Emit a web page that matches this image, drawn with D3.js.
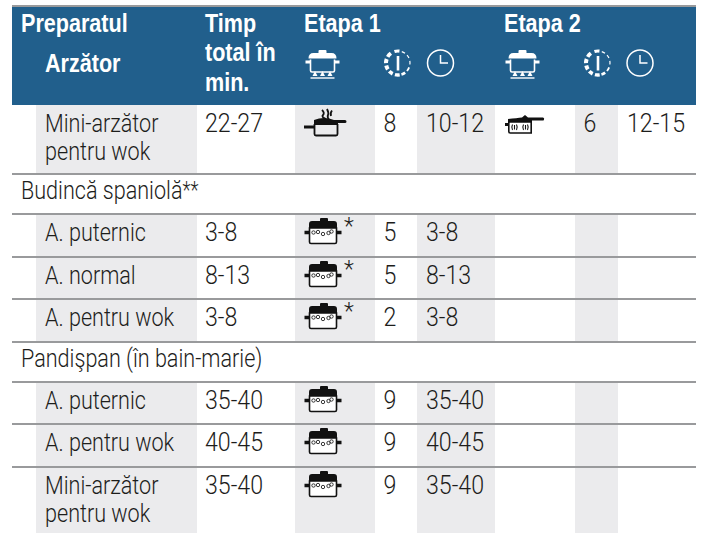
<!DOCTYPE html>
<html>
<head>
<meta charset="utf-8">
<script src="https://cdn.jsdelivr.net/npm/d3@7"></script>
<style>
  html, body { margin: 0; padding: 0; background: #fff; }
  svg { display: block; }
  .body-text { font-family: Roboto, sans-serif; font-weight: 300; font-size: 26.5px; fill: #1d1d1b; }
  .head-text { font-family: "Liberation Sans", sans-serif; font-weight: 700; font-size: 26px; fill: #fff; }
</style>
</head>
<body>
<svg id="table" width="702" height="533"></svg>
<script>
// table content, one entry per row
const labels = ['Mini-arzător|pentru wok', 'Budincă spaniolă**', 'A. puternic', 'A. normal', 'A. pentru wok',
  'Pandişpan (în bain-marie)', 'A. puternic', 'A. pentru wok', 'Mini-arzător|pentru wok'];
const totals = ['22-27', null, '3-8', '8-13', '3-8', null, '35-40', '40-45', '35-40'];
const icons1 = ['steam', null, 'boil*', 'boil*', 'boil*', null, 'boil', 'boil', 'boil'];
const powers1 = ['8', null, '5', '5', '2', null, '9', '9', '9'];
const times1 = ['10-12', null, '3-8', '8-13', '3-8', null, '35-40', '40-45', '35-40'];
const icons2 = ['fry', null, null, null, null, null, null, null, null];
const powers2 = ['6', null, null, null, null, null, null, null, null];
const times2 = ['12-15', null, null, null, null, null, null, null, null];
const columns = ['name', 'total', 'icon1', 'power1', 'time1', 'icon2', 'power2', 'time2'];
const headLeft = ['Preparatul', 'Etapa 1', 'Etapa 2'];
const headTotal = ['Timp', 'total în', 'min.'];
const headBurner = 'Arzător';

const svg = d3.select('#table');
const blue = '#215f8c';
const grey = '#ebebed';
const rule = '#999a9c';
const left = 12;
const right = 696;
const n = labels.length;

const rowTop = d3.scaleOrdinal().domain(d3.range(n + 1))
  .range([105, 174, 214, 257, 299, 342, 382, 424, 467, 533]);
const colLeft = d3.scaleOrdinal().domain(columns)
  .range([36, 197, 295, 375, 417, 495, 575, 618]);
const colRight = d3.scaleOrdinal().domain(columns)
  .range([197, 295, 375, 417, 495, 575, 618, 696]);
const isGroup = (i) => totals[i] === null;

// squeeze the wide fonts down to the condensed look of the original
const wordSq = 0.815;
const numSq = 0.875;
const headSq = 0.83;
const putText = (g, cls, str, x, y, sx) => g.append('text')
  .attr('class', cls)
  .attr('transform', `translate(${x},${y}) scale(${sx},1)`)
  .text(str);

// grey column bands
const bands = svg.append('g');
['name', 'icon1', 'time1', 'power2'].forEach((c) => {
  bands.selectAll(null)
    .data(d3.range(n).filter((i) => !isGroup(i)))
    .join('rect')
    .attr('x', colLeft(c))
    .attr('y', (i) => rowTop(i))
    .attr('width', colRight(c) - colLeft(c))
    .attr('height', (i) => rowTop(i + 1) - rowTop(i))
    .attr('fill', grey);
});

// header
svg.append('rect').attr('x', left).attr('y', 5).attr('width', right - left).attr('height', 2).attr('fill', rule);
svg.append('rect').attr('x', left).attr('y', 7).attr('width', right - left).attr('height', 98).attr('fill', blue);
const head = svg.append('g');
putText(head, 'head-text', headLeft[0], 21, 32, headSq);
putText(head, 'head-text', headBurner, 45, 72, headSq);
headTotal.forEach((t, i) => putText(head, 'head-text', t, colLeft('total') + 8, [32, 61, 91][i], headSq));
putText(head, 'head-text', headLeft[1], colLeft('icon1') + 9, 32, headSq);
putText(head, 'head-text', headLeft[2], colLeft('icon2') + 9, 32, headSq);

// icons, drawn around a local origin
function gasIcon(g) {
  const c = '#fff';
  g.append('path').attr('fill', c).attr('d', 'M14 3.5V1.5Q14 .5 15 .5H21Q22 .5 22 1.5V3.5H27Q32 3.5 32 9H4Q4 3.5 9 3.5Z');
  g.append('path').attr('fill', 'none').attr('stroke', c).attr('stroke-width', 1.6)
    .attr('d', 'M6 10V21Q6 22.5 7.5 22.5H28.5Q30 22.5 30 21V10');
  g.append('path').attr('stroke', c).attr('stroke-width', 3).attr('fill', 'none').attr('d', 'M1 12.5H5.5M30.5 12.5H35');
  g.append('path').attr('fill', c).attr('d', 'M8 26.5L10.5 21.5L13 26.5ZM15.5 26.5L18 21.5L20.5 26.5ZM23 26.5L25.5 21.5L28 26.5Z');
  g.append('path').attr('stroke', c).attr('stroke-width', 1.4).attr('d', 'M6 28.5H30');
}

function boilIcon(g) {
  g.append('path').attr('fill', '#111').attr('d', 'M16 3V1Q16 0 17 0H23Q24 0 24 1V3H30Q33 3 33 6V10H5V6Q5 3 8 3Z');
  g.append('path').attr('fill', '#fff').attr('stroke', '#111').attr('stroke-width', 1.6)
    .attr('d', 'M5.5 10V24Q5.5 25.5 7 25.5H31Q32.5 25.5 32.5 24V10Z');
  g.append('path').attr('stroke', '#111').attr('stroke-width', 3.6).attr('d', 'M.5 14.5H5M33 14.5H37.5');
  g.selectAll('circle').data([[9.5, 14.5], [14, 14], [19, 16], [24.5, 15], [27.5, 13.5]]).join('circle')
    .attr('cx', (d) => d[0]).attr('cy', (d) => d[1]).attr('r', 1.7)
    .attr('fill', 'none').attr('stroke', '#222').attr('stroke-width', 0.9);
}

function steamIcon(g) {
  g.append('path').attr('fill', 'none').attr('stroke', '#111').attr('stroke-width', 1.8)
    .attr('d', 'M18 1Q21 4 19 6T22 10M23 0Q25 4 24 6T25 11M28 1.5Q26 4 27 7');
  g.append('path').attr('fill', '#111').attr('d', 'M10 11Q20 7 30 11H41Q42.5 11 42.5 12.5T41 14H34V16H10Z');
  g.append('path').attr('fill', 'none').attr('stroke', '#111').attr('stroke-width', 1.8)
    .attr('d', 'M10.5 15V25Q10.5 26.5 12 26.5H32Q33.5 26.5 33.5 25V15');
  g.append('path').attr('stroke', '#111').attr('stroke-width', 3).attr('d', 'M0 18H10');
}

function fryIcon(g) {
  g.append('path').attr('fill', '#111').attr('d', 'M20 0L23 2.5H38Q40 3 38.5 5.5H27V7H3V4Q12 3 17 2.5Z');
  g.append('path').attr('fill', '#fff').attr('stroke', '#111').attr('stroke-width', 1.6)
    .attr('d', 'M3.8 7V16.5Q3.8 18 5.3 18H26.2V7Z');
  g.append('path').attr('stroke', '#111').attr('stroke-width', 3).attr('d', 'M0 9.5H4');
  g.append('path').attr('fill', 'none').attr('stroke', '#111').attr('stroke-width', 1.1)
    .attr('d', 'M7.5 9.5Q6 12.5 7.5 15M9.5 10V14.5M11.5 9.5Q13 12.5 11.5 15M18.5 9.5Q17 12.5 18.5 15M20.5 10V14.5M22.5 9.5Q24 12.5 22.5 15');
}

// dashed power dial, dashes get thinner going round to the right
function powerIcon(g) {
  const dashes = [[-0.3, 0.12, 3.2], [0.32, 0.62, 1.2], [0.85, 1.15, 1.2], [1.4, 1.7, 1.2], [1.95, 2.3, 1.8],
    [2.5, 2.85, 2.6], [3.0, 3.4, 3.4], [3.6, 3.95, 3.8], [4.15, 4.5, 4], [4.7, 5.05, 4], [5.25, 5.65, 3.8]];
  const arc = d3.arc();
  g.selectAll('path.dash').data(dashes).join('path')
    .attr('class', 'dash')
    .attr('fill', '#fff')
    .attr('d', (d) => arc({ innerRadius: 12 - d[2] / 2, outerRadius: 12 + d[2] / 2, startAngle: d[0], endAngle: d[1] }));
  g.append('path').attr('stroke', '#fff').attr('stroke-width', 2.6).attr('d', 'M0 -7V7.5');
}

function clockIcon(g) {
  g.append('circle').attr('r', 13).attr('fill', 'none').attr('stroke', '#fff').attr('stroke-width', 1.5);
  g.append('path').attr('fill', 'none').attr('stroke', '#fff').attr('stroke-width', 1.5).attr('d', 'M0 -8V0H7.5');
}

const iconDraw = { steam: steamIcon, boil: boilIcon, fry: fryIcon };
const place = (x, y) => svg.append('g').attr('transform', `translate(${x},${y})`);

// header icons
gasIcon(place(colLeft('icon1') + 9.5, 49.5));
gasIcon(place(colLeft('icon2') + 9.5, 49.5));
powerIcon(place(colLeft('power1') + 23, 63));
powerIcon(place(colLeft('power2') + 23, 63));
clockIcon(place(colLeft('time1') + 23.5, 63));
clockIcon(place(colLeft('time2') + 22, 63));

// body rows
const rows = svg.append('g');
labels.forEach((label, i) => {
  const top = rowTop(i);
  if (isGroup(i)) {
    // trailing asterisks are set smaller and raised
    const parts = label.match(/^(.*?)(\**)$/);
    const t = putText(rows, 'body-text', parts[1], 21, top + 25, wordSq);
    if (parts[2]) t.append('tspan').style('font-size', '23px').attr('dy', -1).text(parts[2]);
    return;
  }
  const base = top + 26.5;
  label.split('|').forEach((line, k) => putText(rows, 'body-text', line, 45, base + k * 28, wordSq));
  putText(rows, 'body-text', totals[i], colLeft('total') + 8, base, numSq);
  putText(rows, 'body-text', powers1[i], colLeft('power1') + 8.5, base, numSq);
  putText(rows, 'body-text', times1[i], colLeft('time1') + 9, base, numSq);
  if (powers2[i]) putText(rows, 'body-text', powers2[i], colLeft('power2') + 8.5, base, numSq);
  if (times2[i]) putText(rows, 'body-text', times2[i], colLeft('time2') + 9, base, numSq);

  const type = icons1[i].replace('*', '');
  iconDraw[type](place(colLeft('icon1') + 9, top + 4));
  if (icons1[i].endsWith('*')) {
    putText(rows, 'body-text', '*', colLeft('icon1') + 49, top + 20, 1).style('font-size', '23px');
  }
  if (icons2[i]) iconDraw[icons2[i]](place(colLeft('icon2') + 10, top + 10));
});

// horizontal rules under each row but the last
svg.append('g').selectAll('rect')
  .data(d3.range(n - 1))
  .join('rect')
  .attr('x', left)
  .attr('y', (i) => rowTop(i + 1) - 1)
  .attr('width', right - left)
  .attr('height', 2)
  .attr('fill', rule);
</script>
</body>
</html>
